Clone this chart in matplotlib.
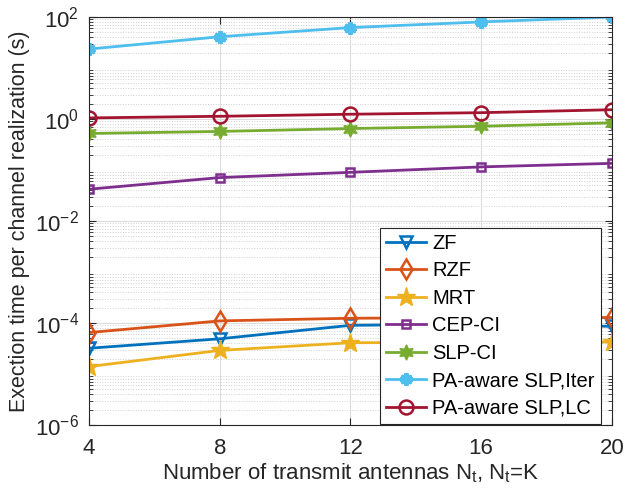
import matplotlib
matplotlib.use('Agg')
import matplotlib.pyplot as plt
import numpy as np

# 数据
nt = [4, 8, 12, 16, 20]
zf = [3.2e-5, 4.9e-5, 9.0e-5, 9.5e-5, 8.6e-5]
rzf = [6.5e-5, 1.1e-4, 1.24e-4, 1.27e-4, 1.28e-4]
mrt = [1.4e-5, 2.9e-5, 4.1e-5, 4.2e-5, 4.25e-5]
cep_ci = [0.042, 0.071, 0.09, 0.115, 0.135]
slp_ci = [0.52, 0.57, 0.65, 0.72, 0.84]
pa_iter = [23.5, 41, 62, 80, 100]
pa_lc = [1.05, 1.13, 1.24, 1.33, 1.52]

labels = ['ZF', 'RZF', 'MRT', 'CEP-CI', 'SLP-CI', 'PA-aware SLP,Iter', 'PA-aware SLP,LC']
series = [zf, rzf, mrt, cep_ci, slp_ci, pa_iter, pa_lc]
colors = ['#0072BD', '#D95319', '#EDB120', '#7E2F8E', '#77AC30', '#4DBEEE', '#A2142F']
markers = ['v', 'd', '*', 's', (6, 1, 0), (6, 2, 0), 'o']
msizes = [9, 10, 14, 6, 11, 9, 10]
filled = [False, False, True, False, True, True, False]
mews = [1.8, 1.8, 1.0, 1.8, 1.0, 3.0, 1.8]

plt.rcParams['font.family'] = ['Liberation Sans', 'DejaVu Sans']
plt.rcParams['mathtext.fontset'] = 'custom'
plt.rcParams['mathtext.rm'] = 'Liberation Sans'

fig = plt.figure(figsize=(6.36, 4.91), dpi=100)
ax = fig.add_axes([0.14, 0.1344, 0.822, 0.831])

for y, lab, c, m, ms, f, mew in zip(series, labels, colors, markers, msizes, filled, mews):
    ax.plot(nt, y, color=c, marker=m, markersize=ms, linewidth=2,
            markerfacecolor=c if f else 'none', markeredgewidth=mew, label=lab)

ax.set_yscale('log')
ax.set_xlim(4, 20)
ax.set_ylim(1e-6, 1e2)
ax.set_xticks(nt)
ax.set_yticks([1e-6, 1e-4, 1e-2, 1e0, 1e2])
ax.grid(True, which='major', color='#dcdcdc', linewidth=0.8)
ax.grid(True, which='minor', axis='y', color='#d0d0d0', linestyle=':', linewidth=0.7)
ax.tick_params(labelsize=16, direction='in', which='both', top=True, right=True,
               colors='#262626')
ax.tick_params(which='major', length=5)
ax.tick_params(which='minor', length=3)
ax.tick_params(axis='x', pad=9)
ax.tick_params(axis='y', pad=7)
for s in ax.spines.values():
    s.set_color('#262626')

ax.set_xlabel('Number of transmit antennas N$_\\mathrm{t}$, N$_\\mathrm{t}$=K', fontsize=16,
              color='#262626', labelpad=2)
ax.set_ylabel('Exection time per channel realization (s)', fontsize=15.5, color='#262626')

leg = ax.legend(loc='lower right', bbox_to_anchor=(0.979, 0.003), fontsize=14.5,
                fancybox=False, edgecolor='#262626',
                handlelength=2.0, borderaxespad=0.0, labelspacing=0.42,
                handletextpad=0.3, borderpad=0.3, framealpha=1)
leg.get_frame().set_linewidth(0.8)

plt.savefig('out.png', dpi=100)
